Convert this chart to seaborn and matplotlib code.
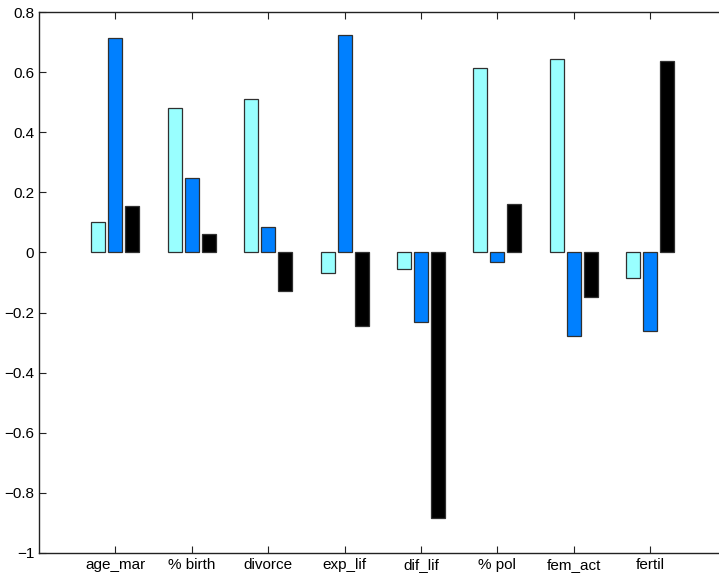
import matplotlib
matplotlib.use("Agg")
import matplotlib.pyplot as plt
import seaborn as sns
import pandas as pd

# Loadings of each variable on three components
variables = ["age_mar", "% birth", "divorce", "exp_lif", "dif_lif", "% pol", "fem_act", "fertil"]
comp1 = [0.102, 0.480, 0.511, -0.070, -0.055, 0.615, 0.645, -0.085]
comp2 = [0.715, 0.247, 0.085, 0.725, -0.232, -0.033, -0.279, -0.260]
comp3 = [0.156, 0.063, -0.127, -0.245, -0.882, 0.160, -0.147, 0.637]
components = ["c1", "c2", "c3"]
colors = ["#99FFFF", "#0080FF", "#000000"]
yticks = [-1, -0.8, -0.6, -0.4, -0.2, 0, 0.2, 0.4, 0.6, 0.8]
ytick_labels = ["\u22121", "\u22120.8", "\u22120.6", "\u22120.4", "\u22120.2", "0", "0.2", "0.4", "0.6", "0.8"]

df = pd.DataFrame({
    "variable": variables * 3,
    "component": sum([[c] * len(variables) for c in components], []),
    "value": comp1 + comp2 + comp3,
})

sns.set_style("ticks")
plt.rcParams["font.family"] = ["Liberation Sans", "DejaVu Sans"]

fig = plt.figure(figsize=(7.19, 5.76), dpi=100)
ax = fig.add_axes([39 / 719, 23 / 576, 687.5 / 719, 541 / 576])

sns.barplot(data=df, x="variable", y="value", hue="component", order=variables,
            hue_order=components, palette=colors, saturation=1, width=0.667, gap=0.175,
            edgecolor="#303030", linewidth=0.9, errorbar=None, legend=False, ax=ax)

ax.set_xlim(-1, 8)
ax.set_ylim(-1, 0.8)
ax.set_yticks(yticks)
ax.set_yticklabels(ytick_labels)
ax.set_xlabel("")
ax.set_ylabel("")
ax.tick_params(axis="both", direction="in", top=True, right=False, length=5,
               width=0.8, labelsize=11, colors="#222222", labelcolor="black")
for name, s in ax.spines.items():
    s.set_visible(name != "right")
    s.set_linewidth(1.0)
    s.set_color("#222222")

fig.savefig("out.png", dpi=100, facecolor="white")
